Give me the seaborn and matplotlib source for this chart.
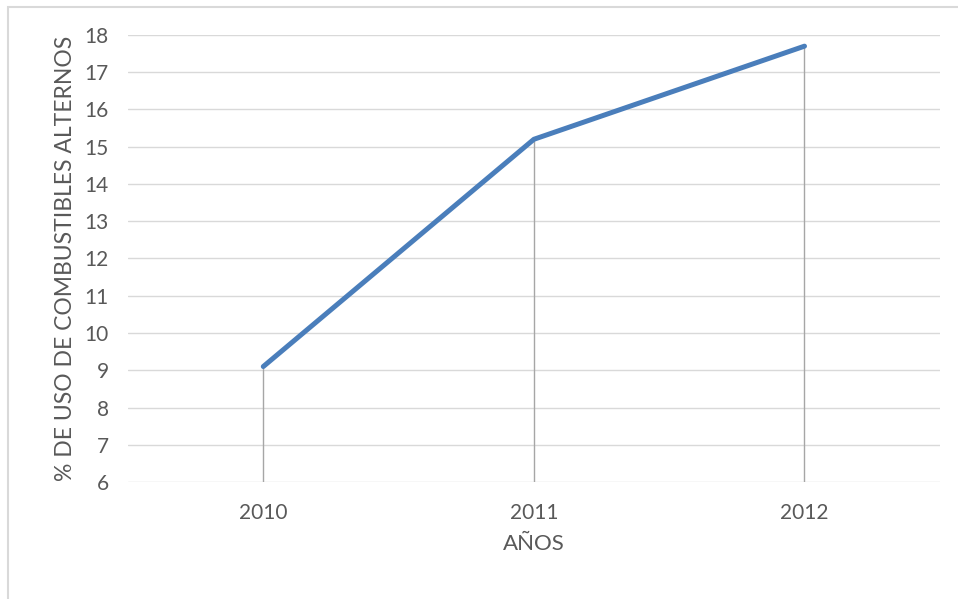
import pandas as pd
import seaborn as sns
import matplotlib.pyplot as plt
from matplotlib.patches import Rectangle

# data
years = ["2010", "2011", "2012"]
uso = [9.1, 15.2, 17.7]

df = pd.DataFrame({"Year": years, "Uso": uso})

sns.set_theme(style="white")
plt.rcParams['font.family'] = ['Lato', 'DejaVu Sans']

fig = plt.figure(figsize=(9.58, 5.99), dpi=100)
ax = fig.add_axes([0.1336, 0.1953, 0.8474, 0.7463])

# drop lines from each point down to the axis
ax.vlines(years, 6, uso, color="#a6a6a6", linewidth=1, zorder=2)

sns.lineplot(data=df, x="Year", y="Uso", color="#4a7ebb", linewidth=3.6,
             solid_capstyle="round", ax=ax, zorder=3)

ax.set_xlim(-0.5, 2.5)
ax.set_ylim(6, 18)
ax.set_yticks(range(6, 19))
ax.yaxis.grid(True, color="#d9d9d9", linewidth=1)
ax.set_axisbelow(True)
sns.despine(ax=ax, left=True, bottom=True)

ax.tick_params(axis="both", length=0, labelsize=15, labelcolor="#595959")
ax.tick_params(axis="y", pad=14)
ax.tick_params(axis="x", pad=15)
ax.set_xlabel("AÑOS", fontsize=16, color="#595959", labelpad=8)
ax.set_ylabel("% DE USO DE COMBUSTIBLES ALTERNOS", fontsize=16.5,
              color="#595959", labelpad=6)

# light chart-area frame
fig.patches.append(Rectangle((8 / 958, -0.1), 1.2, 1 - 7 / 599 + 0.1,
                             transform=fig.transFigure, fill=False,
                             edgecolor="#d9d9d9", linewidth=1.5))

plt.savefig("out.png", dpi=100)
